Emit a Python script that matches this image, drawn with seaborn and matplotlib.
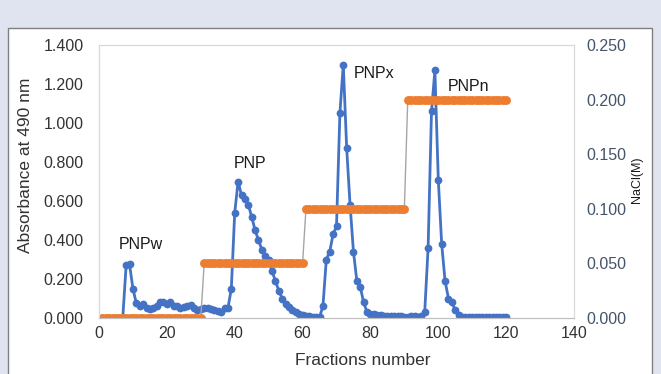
"""Ion-exchange elution profile: absorbance and NaCl gradient."""

import numpy as np
import pandas as pd
import matplotlib
matplotlib.use('Agg')
import matplotlib.pyplot as plt
from matplotlib.patches import Rectangle
from matplotlib.ticker import FormatStrFormatter
import seaborn as sns

# fractions collected
fractions = list(range(1, 121))

# absorbance at 490 nm
absorbance = [
    0.000, 0.000, 0.000, 0.000, 0.000, 0.000, 0.000, 0.270, 0.275, 0.150,
    0.075, 0.060, 0.070, 0.050, 0.045, 0.050, 0.060, 0.080, 0.080, 0.070,
    0.080, 0.060, 0.060, 0.050, 0.055, 0.060, 0.065, 0.050, 0.040, 0.045,
    0.050, 0.050, 0.045, 0.040, 0.035, 0.030, 0.050, 0.050, 0.150, 0.540,
    0.700, 0.630, 0.610, 0.580, 0.520, 0.450, 0.400, 0.350, 0.320, 0.300,
    0.240, 0.190, 0.140, 0.100, 0.070, 0.055, 0.040, 0.030, 0.020, 0.015,
    0.010, 0.010, 0.005, 0.005, 0.005, 0.060, 0.300, 0.340, 0.430, 0.470,
    1.050, 1.300, 0.870, 0.580, 0.340, 0.190, 0.160, 0.080, 0.030, 0.020,
    0.020, 0.015, 0.015, 0.010, 0.010, 0.010, 0.010, 0.010, 0.010, 0.005,
    0.005, 0.010, 0.010, 0.005, 0.010, 0.030, 0.360, 1.060, 1.270, 0.710,
    0.380, 0.190, 0.100, 0.080, 0.040, 0.015, 0.005, 0.005, 0.005, 0.005,
    0.005, 0.005, 0.005, 0.005, 0.005, 0.005, 0.005, 0.005, 0.005, 0.005,
]

# NaCl step gradient (M)
nacl_steps = [0.0, 0.05, 0.1, 0.2]
step_length = 30
nacl = [c for c in nacl_steps for _ in range(step_length)]

# peak labels
peak_names = ['PNPw', 'PNP', 'PNPx', 'PNPn']
peak_x = [12.4, 44.5, 81.0, 109.0]
peak_y = [0.375, 0.790, 1.255, 1.185]

left_ticks = [0.0, 0.2, 0.4, 0.6, 0.8, 1.0, 1.2, 1.4]
right_ticks = [0.0, 0.05, 0.10, 0.15, 0.20, 0.25]
x_ticks = [0, 20, 40, 60, 80, 100, 120, 140]

BLUE = '#4472C4'
ORANGE = '#ED7D31'
TEXT = '#333333'
RIGHT_TEXT = '#44546A'

df = pd.DataFrame({'fraction': fractions, 'absorbance': absorbance, 'nacl': nacl})

sns.set_style('white')
plt.rcParams['font.family'] = ['Liberation Sans', 'DejaVu Sans']

fig = plt.figure(figsize=(6.61, 3.74), dpi=100, facecolor='#E0E4F1')
fig.patches.append(Rectangle(
    (8 / 661, -0.05), 644 / 661, 1.05 - 28 / 374,
    transform=fig.transFigure, facecolor='white', edgecolor='#7F7F7F',
    linewidth=1.0, zorder=-5,
))

ax = fig.add_axes([99 / 661, 56 / 374, 475 / 661, 273 / 374])
ax.set_facecolor('none')

sns.lineplot(
    data=df, x='fraction', y='absorbance', ax=ax, color=BLUE,
    linewidth=2.0, marker='o', markersize=5.6, markeredgewidth=0,
)

ax2 = ax.twinx()
sns.lineplot(
    data=df, x='fraction', y='nacl', ax=ax2, color='#A5A5A5',
    linewidth=1.0, marker='o', markersize=6.4, markerfacecolor=ORANGE,
    markeredgewidth=0,
)

for name, px, py in zip(peak_names, peak_x, peak_y):
    ax.text(px, py, name, ha='center', va='center', fontsize=11.5, color='#1a1a1a')

ax.set_xlim(0, 140)
ax.set_ylim(0, 1.4)
ax2.set_ylim(0, 0.25)
ax.set_xticks(x_ticks)
ax.set_yticks(left_ticks)
ax2.set_yticks(right_ticks)
ax.yaxis.set_major_formatter(FormatStrFormatter('%.3f'))
ax2.yaxis.set_major_formatter(FormatStrFormatter('%.3f'))

ax.tick_params(axis='y', length=0, pad=11, labelsize=11.5, labelcolor=TEXT)
ax.tick_params(axis='x', length=0, pad=6, labelsize=11.5, labelcolor=TEXT)
ax2.tick_params(axis='y', length=0, pad=9, labelsize=11.5, labelcolor=RIGHT_TEXT)

for a in (ax, ax2):
    for side in ('top', 'left', 'right'):
        a.spines[side].set_color('#D9D9D9')
        a.spines[side].set_linewidth(0.8)
    a.spines['bottom'].set_color('#BFBFBF')
    a.spines['bottom'].set_linewidth(0.8)

ax.set_xlabel('Fractions number', fontsize=12.5, color=TEXT)
ax.set_ylabel('Absorbance at 490 nm', fontsize=12.5, color=TEXT)
ax2.set_ylabel('NaCl(M)', fontsize=9, color='#1a1a1a')
ax.xaxis.set_label_coords(0.556, -0.128)
ax.yaxis.set_label_coords(-0.139, 0.56)
ax2.yaxis.set_label_coords(1.12, 0.505)

fig.savefig('out.png', dpi=100, facecolor=fig.get_facecolor())
plt.close(fig)
print("Chart saved to: out.png")
